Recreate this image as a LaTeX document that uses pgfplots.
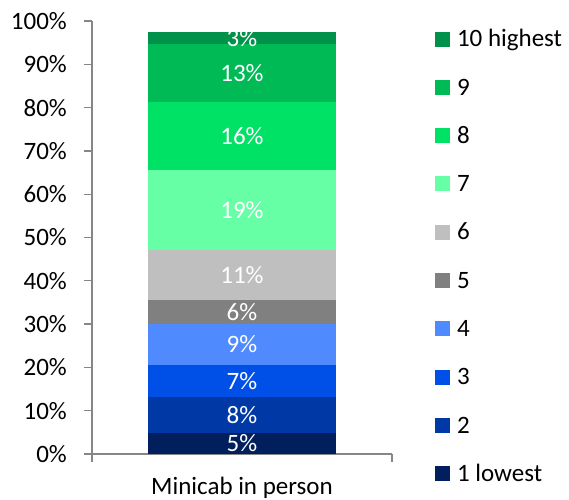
\documentclass[border=0pt]{standalone}
\usepackage{fontspec}
\setmainfont{Carlito}
\usepackage{pgfplots}
\usepackage{pgfplotstable}
\pgfplotsset{compat=1.18}

\definecolor{axisgray}{HTML}{868686}
\definecolor{c1}{HTML}{001F5C}
\definecolor{c2}{HTML}{0039A6}
\definecolor{c3}{HTML}{0050E8}
\definecolor{c4}{HTML}{4F8BFF}
\definecolor{c5}{HTML}{808080}
\definecolor{c6}{HTML}{BFBFBF}
\definecolor{c7}{HTML}{66FFA6}
\definecolor{c8}{HTML}{00E266}
\definecolor{c9}{HTML}{00BB55}
\definecolor{c10}{HTML}{00924A}

% one row: segment heights (v) and the printed rounded labels (l)
\pgfplotstableread{
x v1 v2 v3 v4 v5 v6 v7 v8 v9 v10 l1 l2 l3 l4 l5 l6 l7 l8 l9 l10
0 4.85 8.35 7.4 9.4 5.6 11.5 18.5 15.7 13.4 2.8 5 8 7 9 6 11 19 16 13 3
}\data

\newcommand{\seg}[3]{%
  \addplot[fill=#2, draw=none,
    legend image code/.code={\fill[#2] (0bp,-7.5bp) rectangle (15bp,7.5bp);}]
    table[x=x, y=v#1, meta=l#1] {\data};
  \addlegendentry{#3}}

\begin{document}
\fontsize{25bp}{30bp}\selectfont
\begin{tikzpicture}
\begin{axis}[
  name=ax,
  scale only axis, width=300bp, height=433bp,
  ybar stacked, bar width=188bp,
  xmin=-0.5, xmax=0.5, ymin=0, ymax=100,
  axis lines*=left,
  axis line style={draw=axisgray, line width=1.3bp},
  tick align=outside, major tick length=8bp,
  tick style={draw=axisgray, line width=1.3bp},
  xtick={-0.5,0.5}, xticklabels={},
  extra x ticks={0}, extra x tick labels={Minicab in person},
  extra x tick style={tick style={draw=none}},
  xticklabel style={inner sep=0pt, yshift=-15bp},
  ytick={0,10,...,100},
  yticklabel={\pgfmathprintnumber{\tick}\%},
  yticklabel style={inner sep=0pt, xshift=-17bp},
  /pgf/number format/assume math mode=true,
  point meta=explicit,
  nodes near coords={\pgfmathprintnumber{\pgfplotspointmeta}\%},
  every node near coord/.append style={white, anchor=center, inner sep=0pt},
  reverse legend,
  legend cell align=left,
  legend style={at={(1,1)}, anchor=north west, xshift=43bp, yshift=-8.75bp,
    draw=none, fill=none, inner sep=0pt, outer sep=0pt,
    row sep=29.8bp, column sep=7bp,
    nodes={inner sep=0pt, text height=17bp, text depth=1.5bp}},
]
\seg{1}{c1}{1 lowest}
\seg{2}{c2}{2}
\seg{3}{c3}{3}
\seg{4}{c4}{4}
\seg{5}{c5}{5}
\seg{6}{c6}{6}
\seg{7}{c7}{7}
\seg{8}{c8}{8}
\seg{9}{c9}{9}
\seg{10}{c10}{10 highest}
\end{axis}
\path (ax.south west) ++(-92bp,-46bp) rectangle ++(569bp,500bp);
\end{tikzpicture}
\end{document}
